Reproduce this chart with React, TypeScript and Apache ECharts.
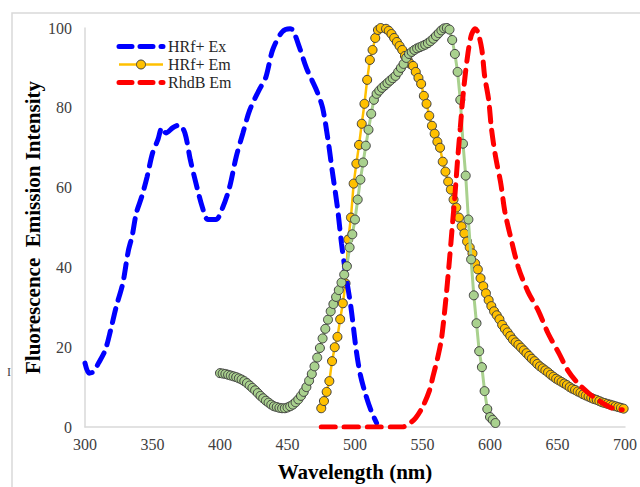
import React, { useEffect, useRef } from "react";
import * as echarts from "echarts";

// HRf+ excitation (blue dashed)
const exWavelength = [300, 303, 306, 310, 315, 319, 323, 328, 332, 335, 338, 342, 346, 350, 354, 357, 360, 365, 370, 374, 378, 383, 387, 391, 397, 402, 407, 412, 417, 422, 429, 434, 439, 446, 452, 454, 459, 464, 468, 472, 476, 480, 483, 487, 490, 493, 497, 501, 504, 508, 512, 516];
const exIntensity = [16, 13.5, 13.8, 16, 19.3, 24.3, 30, 36, 44, 48, 53.6, 57.7, 62.7, 68.6, 72, 75, 73.7, 75, 75.7, 73.7, 67, 60, 55, 52, 52, 55, 60, 67.7, 73.7, 79.4, 84.5, 87.7, 94.5, 99, 99.8, 99.5, 95, 90, 87, 84, 80, 72, 64.5, 55, 46, 38.6, 30, 19, 13, 8, 4, 1];

// HRf+ emission (orange with markers), 475..699 nm every 2 nm
const emStart = 475;
const emStep = 2;
const emIntensity = [4.7, 6.5, 8.8, 11.5, 16.5, 20, 22.6, 27, 31, 36, 47, 52.5, 61, 66, 70.7, 76, 81, 87, 92, 94.5, 97.5, 99.5, 100, 100.2, 99.8, 99.3, 98.5, 97.5, 96.5, 95.5, 94.5, 93, 92, 91, 90.5, 89, 87.5, 86, 83, 81, 78, 75.5, 73.5, 71.5, 70, 66.5, 64, 61.5, 59.5, 57, 55, 52.5, 50.3, 48.5, 46.5, 45, 43.5, 41, 39.5, 37.3, 35.3, 33.5, 31.8, 30.3, 29, 28, 27, 25.6, 24.6, 23.7, 22.8, 21.9, 21.2, 20.6, 19.9, 19.2, 18.5, 17.8, 17.1, 16.5, 15.8, 15.2, 14.7, 14.2, 13.7, 13.1, 12.6, 12.1, 11.7, 11.3, 10.9, 10.5, 10, 9.6, 9.3, 8.9, 8.6, 8.2, 7.9, 7.6, 7.3, 7, 6.8, 6.5, 6.2, 6, 5.8, 5.6, 5.4, 5.2, 5, 4.8, 4.6];

// Green spectrum with markers, 400..604 nm every 2 nm
const greenStart = 400;
const greenStep = 2;
const greenIntensity = [13.5, 13.4, 13.3, 13.1, 12.9, 12.7, 12.5, 12.2, 11.9, 11.5, 11, 10.4, 9.8, 9.2, 8.5, 7.8, 7.2, 6.6, 6.1, 5.6, 5.2, 5, 4.8, 4.7, 4.7, 4.9, 5.2, 5.6, 6.2, 6.9, 7.8, 8.8, 10, 11.6, 13.3, 15.2, 17.4, 19.8, 22.2, 24.6, 26.9, 29, 30.8, 32.6, 34.3, 36.2, 38.2, 40.3, 45, 48.3, 52, 57, 62, 66.3, 70.5, 74.5, 78.5, 82, 83.5, 84.3, 85, 85.6, 86.2, 86.8, 87.4, 88, 89, 90, 91, 92.5, 93.5, 94, 94.5, 94.9, 95.2, 95.5, 95.8, 96.2, 96.7, 97.3, 98, 98.7, 99.4, 99.9, 100, 99.6, 97, 93.5, 89, 82, 71, 63, 52, 42, 33, 26, 19, 15, 9, 4.5, 2.5, 1.8, 1];

// RhdB emission (red dashed)
const rhdbWavelength = [475, 490, 510, 535, 540, 545, 550, 555, 558, 561, 564, 567, 570, 572, 574, 576, 578, 580, 583, 586, 589, 591, 594, 596, 599, 601, 604, 608, 611, 615, 621, 628, 636, 643, 651, 658, 665, 673, 682, 690, 698];
const rhdbIntensity = [0, 0, 0, 0, 0.8, 2.3, 5, 9, 13, 17, 22, 31, 42, 50, 58, 67, 75, 83, 92, 98, 99.8, 99, 94.5, 88, 82, 75, 68, 61, 54, 48, 40, 34, 29, 23.5, 18.5, 14, 11, 8.5, 6.3, 4.8, 4.3];

const legendNames = ["HRf+ Ex", "HRf+ Em", "RhdB Em"];
const xTitle = "Wavelength (nm)";
const yTitle = "Fluorescence  Emission Intensity";

const SERIF = "Liberation Serif";
const BLUE = "#0000ff";
const ORANGE = "#ffc000";
const GREEN = "#a9d18e";
const RED = "#ff0000";
const MARKER_BORDER = "#404040";

export default function App() {
  const ref = useRef<HTMLDivElement>(null);
  useEffect(() => {
    if (!ref.current) return;
    const chart = echarts.init(ref.current, undefined, { renderer: "svg" });
    const exData = exWavelength.map((x, i) => [x, exIntensity[i]]);
    const emData = emIntensity.map((y, i) => [emStart + i * emStep, y]);
    const greenData = greenIntensity.map((y, i) => [greenStart + i * greenStep, y]);
    const rhdbData = rhdbWavelength.map((x, i) => [x, rhdbIntensity[i]]);

    const legendX = 117;
    const legendW = 48;
    const legendYs = [46.5, 64.5, 82.5];
    const legendGraphics: any[] = [];
    const legendStyles = [
      { color: BLUE, dashed: true, marker: false },
      { color: ORANGE, dashed: false, marker: true },
      { color: RED, dashed: true, marker: false },
    ];
    legendNames.forEach((name, i) => {
      const y = legendYs[i];
      const s = legendStyles[i];
      legendGraphics.push({
        type: "line",
        silent: true,
        shape: { x1: legendX + 2, y1: y, x2: legendX + legendW - 2, y2: y },
        style: s.dashed
          ? { stroke: s.color, lineWidth: 5, lineDash: [13, 8], lineCap: "round" }
          : { stroke: s.color, lineWidth: 2.5 },
      });
      if (s.marker) {
        legendGraphics.push({
          type: "circle",
          silent: true,
          shape: { cx: legendX + legendW / 2, cy: y, r: 4.5 },
          style: { fill: s.color, stroke: MARKER_BORDER, lineWidth: 1 },
        });
      }
      legendGraphics.push({
        type: "text",
        silent: true,
        x: legendX + legendW + 3,
        y,
        style: {
          text: name,
          fontFamily: SERIF,
          fontSize: 16,
          fill: "#262626",
          align: "left",
          verticalAlign: "middle",
        },
      });
    });

    chart.setOption({
      animation: false,
      backgroundColor: "#ffffff",
      textStyle: { fontFamily: SERIF },
      grid: { left: 85, right: 13, top: 28, bottom: 60, containLabel: false },
      xAxis: {
        type: "value",
        min: 300,
        max: 700,
        interval: 50,
        axisLine: { show: true, lineStyle: { color: "#d9d9d9", width: 1.5 } },
        axisTick: { show: false },
        splitLine: { show: false },
        axisLabel: { fontFamily: SERIF, fontSize: 16, color: "#404040", margin: 9 },
        name: xTitle,
        nameLocation: "middle",
        nameGap: 34,
        nameTextStyle: { fontFamily: SERIF, fontSize: 21, fontWeight: "bold", color: "#000" },
      },
      yAxis: {
        type: "value",
        min: 0,
        max: 100,
        interval: 20,
        axisLine: { show: true, lineStyle: { color: "#d9d9d9", width: 1.5 } },
        axisTick: { show: false },
        splitLine: { show: false },
        axisLabel: { fontFamily: SERIF, fontSize: 16, color: "#404040", margin: 13 },
      },
      graphic: [
        {
          type: "rect",
          shape: { x: 12, y: 13, width: 700, height: 600 },
          style: { fill: "none", stroke: "#d9d9d9", lineWidth: 1.5 },
          silent: true,
        },
        {
          type: "text",
          x: 33,
          y: 227.5,
          rotation: Math.PI / 2,
          style: {
            text: yTitle,
            fontFamily: SERIF,
            fontSize: 21,
            fontWeight: "bold",
            fill: "#000",
            align: "center",
            verticalAlign: "middle",
          },
        },
        {
          type: "text",
          x: 9,
          y: 372,
          style: {
            text: "I",
            fontFamily: SERIF,
            fontSize: 12,
            fill: "#404040",
            align: "center",
            verticalAlign: "middle",
          },
        },
        ...legendGraphics,
      ],
      series: [
        {
          name: "HRf+ Ex",
          type: "line",
          data: exData,
          symbol: "none",
          smooth: 0.3,
          lineStyle: { color: BLUE, width: 5, type: [14, 9], cap: "round" },
          itemStyle: { color: BLUE },
          z: 3,
        },
        {
          name: "HRf+ Em",
          type: "line",
          data: emData,
          symbol: "circle",
          symbolSize: 9,
          showAllSymbol: true,
          lineStyle: { color: ORANGE, width: 2.5 },
          itemStyle: { color: ORANGE, borderColor: MARKER_BORDER, borderWidth: 1 },
          z: 2,
        },
        {
          name: "Green",
          type: "line",
          data: greenData,
          symbol: "circle",
          symbolSize: 9,
          showAllSymbol: true,
          lineStyle: { color: GREEN, width: 3 },
          itemStyle: { color: GREEN, borderColor: MARKER_BORDER, borderWidth: 1 },
          z: 4,
        },
        {
          name: "RhdB Em",
          type: "line",
          data: rhdbData,
          symbol: "none",
          smooth: 0.3,
          lineStyle: { color: RED, width: 5, type: [14, 9], cap: "round" },
          itemStyle: { color: RED },
          z: 5,
        },
      ],
    });
    return () => chart.dispose();
  }, []);
  return (
    <div
      ref={ref}
      style={{ position: "absolute", left: 0, top: 0, width: 640, height: 487 }}
    />
  );
}
